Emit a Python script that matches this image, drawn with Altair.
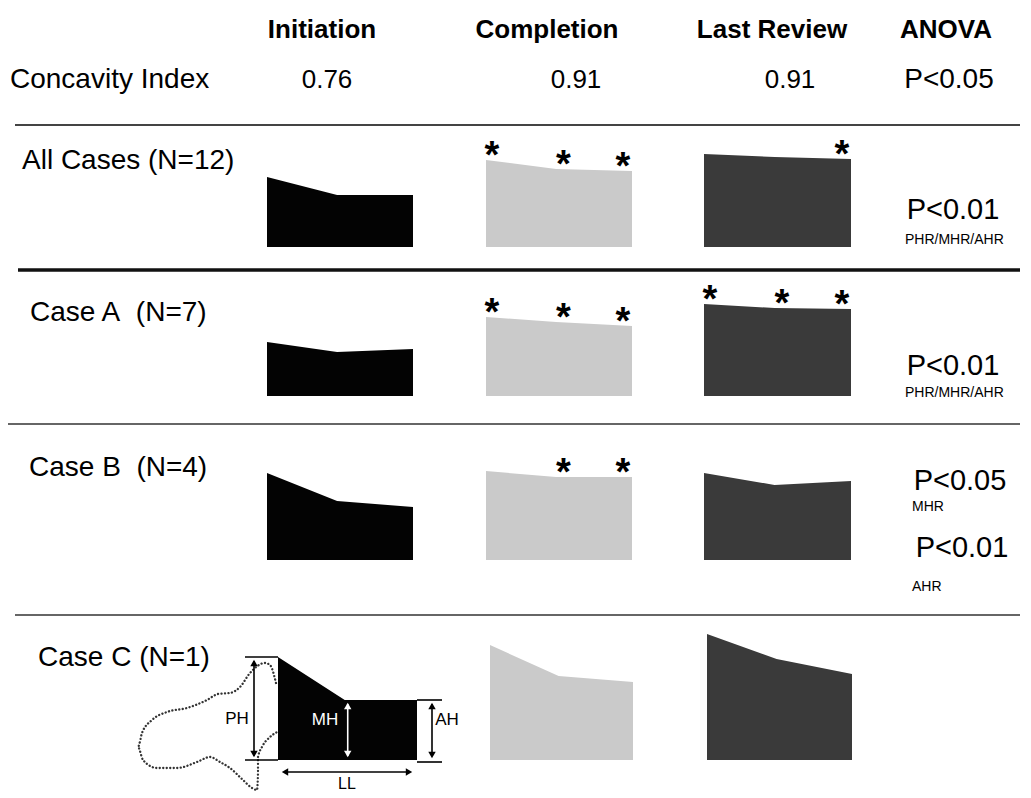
import altair as alt
import pandas as pd

# ---------------- data ----------------
STAGES = ["Initiation", "Completion", "Last Review"]
CASES = ["All Cases (N=12)", "Case A\u00a0\u00a0(N=7)", "Case B\u00a0\u00a0(N=4)", "Case C (N=1)"]
CONCAVITY = ["0.76", "0.91", "0.91"]
CONCAVITY_P = "P<0.05"

# heights (posterior PH, middle MH, anterior AH) per case x stage
PH = [[70, 87, 93], [54, 79, 92], [87, 89, 87], [103, 115, 126]]
MH = [[52, 78, 90], [44, 74, 88], [59, 83, 75], [60, 84, 101]]
AH = [[52, 76, 88], [47, 70, 87], [53, 83, 79], [60, 78, 86]]

# significance asterisks (PH, MH, AH) per case x stage
SIG = [
    [[0, 0, 0], [1, 1, 1], [0, 0, 1]],
    [[0, 0, 0], [1, 1, 1], [1, 1, 1]],
    [[0, 0, 0], [0, 1, 1], [0, 0, 0]],
    [[0, 0, 0], [0, 0, 0], [0, 0, 0]],
]

ANOVA_MAIN = [["P<0.01"], ["P<0.01"], ["P<0.05", "P<0.01"], []]
ANOVA_SUB = [["PHR/MHR/AHR"], ["PHR/MHR/AHR"], ["MHR", "AHR"], []]

# dotted outline beside the diagram (offsets from the diagram's lower-left corner)
OUT_DX = [-2, -8, -13, -28, -38, -48, -60, -71, -91, -111, -126, -136, -140, -135,
          -121, -101, -81, -68, -58, -48, -35, -26, -21, -20, -20, -16, -8, -1]
OUT_DY = [-77, -95, -97, -87, -73, -67, -66, -60, -52, -48, -40, -27, -13, 0,
          8, 8, 2, -3, 2, 8, 20, 28, 30, 13, -3, -13, -23, -28]

# ---------------- layout ----------------
W, H = 1015, 789
XS = alt.Scale(domain=[8, 8 + W], nice=False, zero=False)
YS = alt.Scale(domain=[8, 8 + H], nice=False, zero=False, reverse=True)
COLORS = ["#030303", "#cacaca", "#3a3a3a"]
FONT = "Liberation Sans"

BASES = [247, 396, 560, 760]
LEFTS = [[267, 486, 704]] * 3 + [[278, 490, 707]]
WIDTHS = [[146, 146, 147]] * 3 + [[139, 143, 145]]
MID = 0.48
LABEL_X = [22, 30, 29, 38]
LABEL_Y = [161, 313, 468, 658]
SEP_Y = [125, 270, 424, 615]
SEP_X1 = [15, 18, 8, 15]
SEP_W = [2, 3.5, 1.5, 1.5]
SEP_C = ["#444444", "#111111", "#333333", "#333333"]
HEAD_X = [322, 547, 772, 946]
CONC_X = [327, 576, 790, 949]
ANOVA_MAIN_POS = [[(953, 210)], [(953, 366)], [(960, 481), (962, 548)], []]
ANOVA_SUB_POS = [[(905, 240)], [(905, 393)], [(912, 507), (912, 587)], []]


def X(f):
    return alt.X(f, type="quantitative", scale=XS, axis=None)


def Y(f):
    return alt.Y(f, type="quantitative", scale=YS, axis=None)


def texts(items, align="left", weight="normal", color="black"):
    df = pd.DataFrame(items, columns=["x", "y", "text", "fs"])
    return alt.Chart(df).mark_text(
        align=align, baseline="middle", fontWeight=weight, color=color, font=FONT
    ).encode(x=X("x"), y=Y("y"), text="text:N",
             size=alt.Size("fs:Q", scale=None, legend=None))


# areas
area_rows = []
star_rows = []
for ci in range(len(CASES)):
    for si, stage in enumerate(STAGES):
        left, w, base = LEFTS[ci][si], WIDTHS[ci][si], BASES[ci]
        hs = [PH[ci][si], MH[ci][si], AH[ci][si]]
        xs = [left, left + MID * w, left + w]
        for x, h in zip(xs, hs):
            area_rows.append(dict(shape=f"{ci}-{si}", stage=stage, x=x, top=base - h, base=base))
        sx = [left + 6, left + 0.53 * w, left + w - 9]
        for k in range(3):
            if SIG[ci][si][k]:
                star_rows.append((sx[k], base - hs[k] - 12, "*", 38))

areas = alt.Chart(pd.DataFrame(area_rows)).mark_area(interpolate="linear").encode(
    x=X("x"), y=Y("top"), y2="base:Q",
    color=alt.Color("stage:N", scale=alt.Scale(domain=STAGES, range=COLORS), legend=None),
    detail="shape:N",
)

# separators
sep_df = pd.DataFrame(dict(x=SEP_X1, x2=[1020] * 4, y=SEP_Y, w=SEP_W, c=SEP_C))
seps = alt.Chart(sep_df).mark_rule().encode(
    x=X("x"), x2="x2:Q", y=Y("y"),
    strokeWidth=alt.StrokeWidth("w:Q", scale=None, legend=None),
    color=alt.Color("c:N", scale=None),
)

# texts
head = texts([(HEAD_X[i], 30, t, 26) for i, t in enumerate(STAGES + ["ANOVA"])],
             align="center", weight="bold")
conc_lbl = texts([(10, 80, "Concavity Index", 28)])
conc_vals = texts([(CONC_X[i], 80, t, 26) for i, t in enumerate(CONCAVITY)],
                  align="center")
conc_p = texts([(CONC_X[3], 80, CONCAVITY_P, 28)], align="center")
case_lbl = texts([(LABEL_X[i], LABEL_Y[i], c, 28) for i, c in enumerate(CASES)])
an_main = texts([(p[0], p[1], t, 29) for i in range(4)
                 for p, t in zip(ANOVA_MAIN_POS[i], ANOVA_MAIN[i])], align="center")
an_sub = texts([(p[0], p[1], t, 14) for i in range(4)
                for p, t in zip(ANOVA_SUB_POS[i], ANOVA_SUB[i])])
stars = alt.Chart(pd.DataFrame(star_rows, columns=["x", "y", "text", "fs"])).mark_text(
    align="center", baseline="middle", fontWeight="bold", font=FONT, dy=9
).encode(x=X("x"), y=Y("y"), text="text:N", size=alt.Size("fs:Q", scale=None, legend=None))

# diagram annotations on Case C initiation
cL, cW, cB = LEFTS[3][0], WIDTHS[3][0], BASES[3]
pTop, mTop, aTop = cB - PH[3][0], cB - MH[3][0], cB - AH[3][0]
mx = cL + MID * cW + 3
ax = cL + cW + 15
px = cL - 24
lines = pd.DataFrame([
    (cL - 33, cL, pTop, pTop, "black"),
    (cL - 33, cL, cB, cB, "black"),
    (cL + cW, cL + cW + 25, aTop, aTop, "black"),
    (cL + cW, cL + cW + 25, cB + 2, cB + 2, "black"),
    (px, px, pTop + 4, cB - 4, "black"),
    (mx, mx, mTop + 4, cB - 4, "white"),
    (ax, ax, aTop + 4, cB - 4, "black"),
    (cL + 6, cL + cW - 7, cB + 12, cB + 12, "black"),
], columns=["x", "x2", "y", "y2", "c"])
dlines = alt.Chart(lines).mark_rule(strokeWidth=1.6).encode(
    x=X("x"), x2="x2:Q", y=Y("y"), y2="y2:Q", color=alt.Color("c:N", scale=None))
heads = pd.DataFrame([
    (px, pTop + 6, "triangle-up", "black"), (px, cB - 6, "triangle-down", "black"),
    (mx, mTop + 6, "triangle-up", "white"), (mx, cB - 6, "triangle-down", "white"),
    (ax, aTop + 6, "triangle-up", "black"), (ax, cB - 5, "triangle-down", "black"),
    (cL + 7, cB + 12, "triangle-left", "black"), (cL + cW - 8, cB + 12, "triangle-right", "black"),
], columns=["x", "y", "s", "c"])
dheads = alt.Chart(heads).mark_point(filled=True, size=55, opacity=1, strokeWidth=0).encode(
    x=X("x"), y=Y("y"), shape=alt.Shape("s:N", scale=None), color=alt.Color("c:N", scale=None))
outline = pd.DataFrame(dict(i=list(range(len(OUT_DX))),
                            x=[cL + d for d in OUT_DX], y=[cB + d for d in OUT_DY]))
dout = alt.Chart(outline).mark_line(
    strokeDash=[0.1, 3.4], strokeWidth=2.3, strokeCap="round", color="#333333",
    interpolate="monotone").encode(x=X("x"), y=Y("y"), order="i:Q")
dlbl = texts([(cL - 41, cB - 41, "PH", 17), (cL + cW + 30, cB - 40, "AH", 17),
              (cL + 69, cB + 24, "LL", 16)], align="center")
dlbl_w = texts([(cL + 47, cB - 40, "MH", 17)], align="center", color="white")

chart = alt.layer(
    seps, areas, stars, head, conc_lbl, conc_vals, conc_p, case_lbl, an_main, an_sub,
    dout, dlines, dheads, dlbl, dlbl_w,
).properties(
    width=W, height=H, padding=0, autosize=alt.AutoSizeParams(type="none")
).configure_view(stroke=None)

chart.save("out.html", embed_options={"renderer": "svg", "actions": False})
